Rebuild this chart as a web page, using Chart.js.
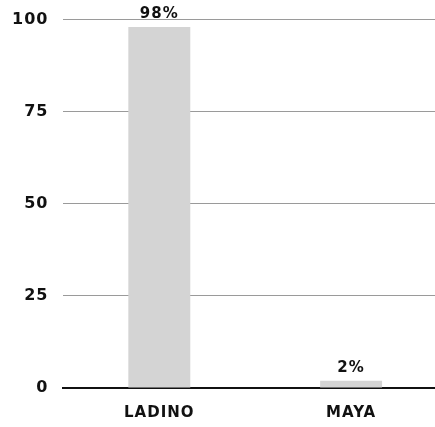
<!DOCTYPE html>
<html>
<head>
<meta charset="utf-8">
<script src="https://cdn.jsdelivr.net/npm/chart.js@4"></script>
<style>
  html, body { margin: 0; padding: 0; background: #fff; overflow: hidden; }
  #wrap { width: 447px; height: 450px; position: relative; top: -5px; }
</style>
</head>
<body>
<div id="wrap"><canvas id="chart"></canvas></div>
<script>
const categories = ["LADINO", "MAYA"];
const shares = [98, 2];
const yTicks = [0, 25, 50, 75, 100];

const FONT = "'DejaVu Sans', 'Liberation Sans', sans-serif";

// wider letter spacing for all canvas text
const spacing = {
  id: "spacing",
  beforeDraw(chart) { chart.ctx.letterSpacing = "1px"; }
};

// percentage label above each bar
const valueLabels = {
  id: "valueLabels",
  afterDatasetsDraw(chart) {
    const ctx = chart.ctx;
    const meta = chart.getDatasetMeta(0);
    ctx.save();
    ctx.font = "bold 15px " + FONT;
    ctx.fillStyle = "#111";
    ctx.textAlign = "center";
    ctx.textBaseline = "bottom";
    meta.data.forEach((bar, i) => {
      ctx.fillText(shares[i] + "%", bar.x, bar.y - 5);
    });
    ctx.restore();
  }
};

new Chart(document.getElementById("chart"), {
  type: "bar",
  data: {
    labels: categories,
    datasets: [{
      data: shares,
      backgroundColor: "#d4d4d4",
      categoryPercentage: 1,
      barPercentage: 0.323
    }]
  },
  options: {
    responsive: true,
    maintainAspectRatio: false,
    animation: false,
    layout: { padding: { top: 0, right: 0, bottom: 7, left: 0 } },
    plugins: { legend: { display: false }, tooltip: { enabled: false } },
    scales: {
      x: {
        grid: { display: false, drawTicks: false },
        border: { color: "#111", width: 2 },
        ticks: { color: "#111", font: { family: FONT, size: 15, weight: "bold" }, padding: 16 }
      },
      y: {
        min: 0,
        max: 100,
        afterBuildTicks(axis) { axis.ticks = yTicks.map(v => ({ value: v })); },
        grid: { color: "#9a9a9a", lineWidth: 1, drawTicks: false },
        border: { display: false },
        ticks: { color: "#111", font: { family: FONT, size: 16, weight: "bold" }, padding: 15 }
      }
    }
  },
  plugins: [spacing, valueLabels]
});
</script>
</body>
</html>
